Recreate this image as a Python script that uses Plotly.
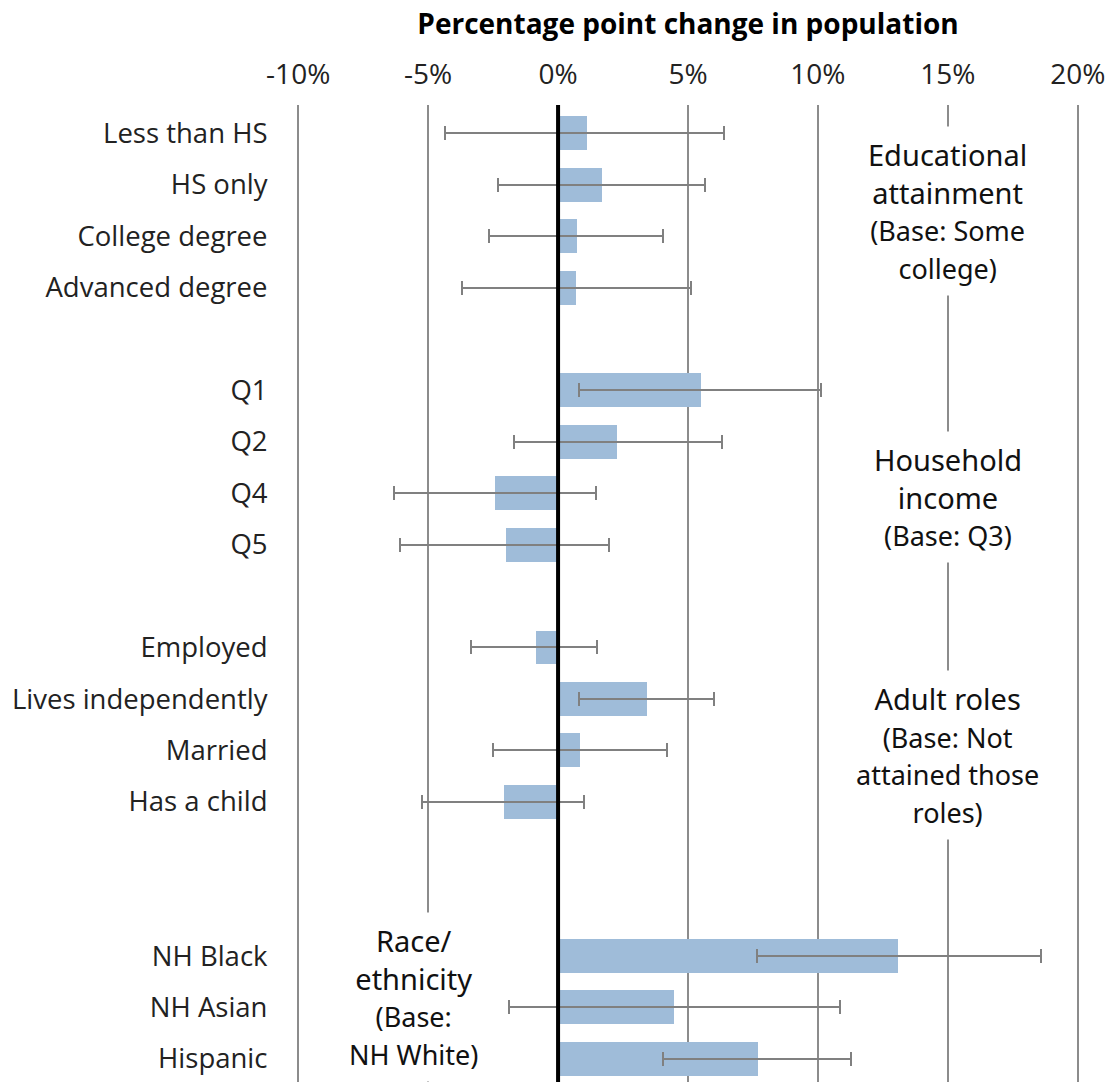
import plotly.graph_objects as go

# ---- data ----
categories = ["Less than HS", "HS only", "College degree", "Advanced degree",
              "Q1", "Q2", "Q4", "Q5",
              "Employed", "Lives independently", "Married", "Has a child",
              "NH Black", "NH Asian", "Hispanic"]
group_sizes = [4, 4, 4, 3]
values = [1.1, 1.7, 0.72, 0.7,
          5.5, 2.27, -2.42, -2.0,
          -0.85, 3.42, 0.85, -2.08,
          13.1, 4.46, 7.7]
ci_low = [-4.35, -2.3, -2.65, -3.7,
          0.8, -1.7, -6.3, -6.1,
          -3.35, 0.8, -2.5, -5.23,
          7.65, -1.9, 4.04]
ci_high = [6.4, 5.65, 4.05, 5.1,
           10.1, 6.3, 1.46, 1.96,
           1.5, 6.0, 4.2, 1.0,
           18.6, 10.85, 11.27]
x_ticks = [-10, -5, 0, 5, 10, 15, 20]
x_tick_labels = ["-10%", "-5%", "0%", "5%", "10%", "15%", "20%"]
group_titles = ["Educational<br>attainment", "Household<br>income",
                "Adult roles", "Race/<br>ethnicity"]
group_bases = ["(Base: Some<br>college)", "(Base: Q3)",
               "(Base: Not<br>attained those<br>roles)", "(Base:<br>NH White)"]

# ---- layout positions (row index with gaps between groups) ----
gaps_before = [0, 1, 1, 2]
ypos = []
cur = 0
for gi, n in enumerate(group_sizes):
    cur += gaps_before[gi]
    for _ in range(n):
        ypos.append(cur)
        cur += 1

err_plus = [h - v for h, v in zip(ci_high, values)]
err_minus = [v - l for v, l in zip(values, ci_low)]

fig = go.Figure()
fig.add_trace(go.Bar(
    x=values, y=ypos, orientation="h", width=0.66,
    marker=dict(color="#9fbcd9", line=dict(width=0)),
    error_x=dict(type="data", symmetric=False, array=err_plus, arrayminus=err_minus,
                 color="#808080", thickness=2, width=7),
    showlegend=False,
))

# zero line on top
fig.add_shape(type="line", xref="x", yref="paper", x0=0, x1=0, y0=0, y1=1,
              line=dict(color="black", width=4), layer="above")

label_font = dict(family="Noto Sans, Open Sans, sans-serif", size=29, color="#111")
ann_pos = [(15, 1.52), (15, 7.08), (15, 12.1), (-5.58, 16.8)]
for (gx, gy), t, b in zip(ann_pos, group_titles, group_bases):
    txt = t + "<br><span style='font-size:27px'>" + b + "</span>"
    fig.add_annotation(x=gx, y=gy, xref="x", yref="y", text=txt, showarrow=False,
                       font=label_font, bgcolor="white", borderpad=8,
                       align="center", xanchor="center", yanchor="middle")

fig.update_layout(
    width=1108, height=1082,
    margin=dict(l=293, r=25, t=105, b=0),
    plot_bgcolor="white", paper_bgcolor="white",
    bargap=0,
    font=dict(family="Open Sans, sans-serif", color="#222"),
    xaxis=dict(
        side="top", range=[-10.2, 20.2], tickvals=x_ticks, ticktext=x_tick_labels,
        showgrid=True, gridcolor="#8c8c8c", gridwidth=2, zeroline=False,
        tickfont=dict(size=28, color="#222"), ticks="outside", ticklen=9,
        tickcolor="rgba(0,0,0,0)",
        title=dict(text="<b>Percentage point change in population</b>",
                   font=dict(size=28, color="#000"), standoff=10),
        fixedrange=True,
    ),
    yaxis=dict(
        range=[18.45, -0.55], tickvals=ypos, ticktext=categories,
        showgrid=False, zeroline=False, ticks="outside", ticklen=19,
        tickcolor="rgba(0,0,0,0)", tickfont=dict(size=27.5, color="#222"),
        fixedrange=True,
    ),
)

fig.write_html("out.html", config={"displayModeBar": False},
               post_script="document.body.style.margin='0px';")
